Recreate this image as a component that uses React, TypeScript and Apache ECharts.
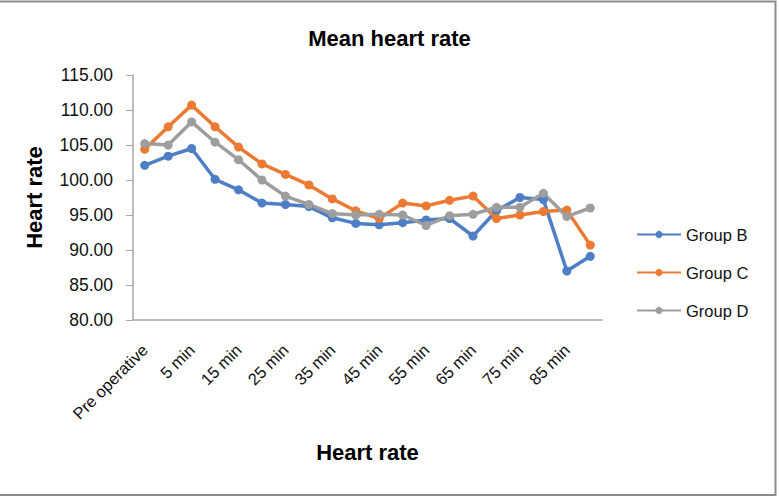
import React, { useEffect, useRef } from "react";
import * as echarts from "echarts";

const categories = [
  "Pre operative", "0 min", "5 min", "10 min", "15 min", "20 min", "25 min",
  "30 min", "35 min", "40 min", "45 min", "50 min", "55 min", "60 min",
  "65 min", "70 min", "75 min", "80 min", "85 min", "90 min",
];

const groupB = [
  102.1, 103.4, 104.5, 100.1, 98.6, 96.7, 96.5, 96.2, 94.6, 93.8,
  93.6, 93.9, 94.3, 94.5, 92.0, 95.6, 97.5, 97.2, 87.0, 89.1,
];
const groupC = [
  104.4, 107.6, 110.7, 107.6, 104.7, 102.3, 100.8, 99.3, 97.3, 95.6,
  94.5, 96.7, 96.3, 97.1, 97.7, 94.5, 95.0, 95.5, 95.7, 90.7,
];
const groupD = [
  105.2, 105.0, 108.3, 105.4, 102.9, 100.0, 97.7, 96.5, 95.2, 95.0,
  95.1, 95.0, 93.5, 94.9, 95.1, 96.1, 96.1, 98.1, 94.8, 96.0,
];

const seriesNames = ["Group B", "Group C", "Group D"];
const seriesColors = ["#4e7fc6", "#ec7a32", "#9e9e9e"];

export default function App() {
  const ref = useRef<HTMLDivElement>(null);

  useEffect(() => {
    if (!ref.current) return;
    const chart = echarts.init(ref.current, undefined, { renderer: "svg" });
    const font = "'Liberation Sans', Arial, sans-serif";
    const data = [groupB, groupC, groupD];

    chart.setOption({
      animation: false,
      backgroundColor: "#ffffff",
      textStyle: { fontFamily: font },
      title: {
        text: "Mean heart rate",
        left: "center",
        top: 22,
        textStyle: { fontFamily: font, fontSize: 22, fontWeight: "bold", color: "#000" },
      },
      grid: { left: 133, right: 177, top: 75, bottom: 178, containLabel: false },
      legend: {
        orient: "vertical",
        left: 631,
        top: 221,
        itemWidth: 44,
        itemHeight: 9,
        itemGap: 21,
        data: seriesNames,
        textStyle: { fontFamily: font, fontSize: 16.5, color: "#111" },
      },
      xAxis: {
        type: "category",
        data: categories,
        boundaryGap: true,
        name: "Heart rate",
        nameLocation: "middle",
        nameGap: 121,
        nameTextStyle: { fontFamily: font, fontSize: 22, fontWeight: "bold", color: "#000" },
        axisLine: { lineStyle: { color: "#a6a6a6", width: 1.5 } },
        axisTick: { show: false },
        axisLabel: {
          interval: 1,
          rotate: 45,
          margin: 27,
          fontFamily: font,
          fontSize: 16.5,
          color: "#111",
        },
      },
      yAxis: {
        type: "value",
        min: 80,
        max: 115,
        interval: 5,
        name: "Heart rate",
        nameLocation: "middle",
        nameGap: 88,
        nameTextStyle: { fontFamily: font, fontSize: 22, fontWeight: "bold", color: "#000" },
        axisLine: { show: true, lineStyle: { color: "#a6a6a6", width: 1.5 } },
        axisTick: { show: true, length: 7, lineStyle: { color: "#a6a6a6" } },
        splitLine: { show: false },
        axisLabel: {
          margin: 20,
          fontFamily: font,
          fontSize: 17.5,
          color: "#111",
          formatter: (v: number) => v.toFixed(2),
        },
      },
      series: data.map((d, i) => ({
        name: seriesNames[i],
        type: "line",
        data: d,
        color: seriesColors[i],
        symbol: "circle",
        symbolSize: 9,
        lineStyle: { width: 3.5, color: seriesColors[i] },
        itemStyle: { color: seriesColors[i] },
      })),
      graphic: [
        {
          type: "polyline",
          shape: { points: [[0, 1.5], [775.5, 1.5], [775.5, 495], [0, 495]] },
          style: { stroke: "#8c8c8c", fill: null, lineWidth: 2 },
        },
      ],
    });

    return () => chart.dispose();
  }, []);

  return (
    <div
      ref={ref}
      style={{ position: "fixed", left: 0, top: 0, width: 779, height: 498 }}
    />
  );
}
